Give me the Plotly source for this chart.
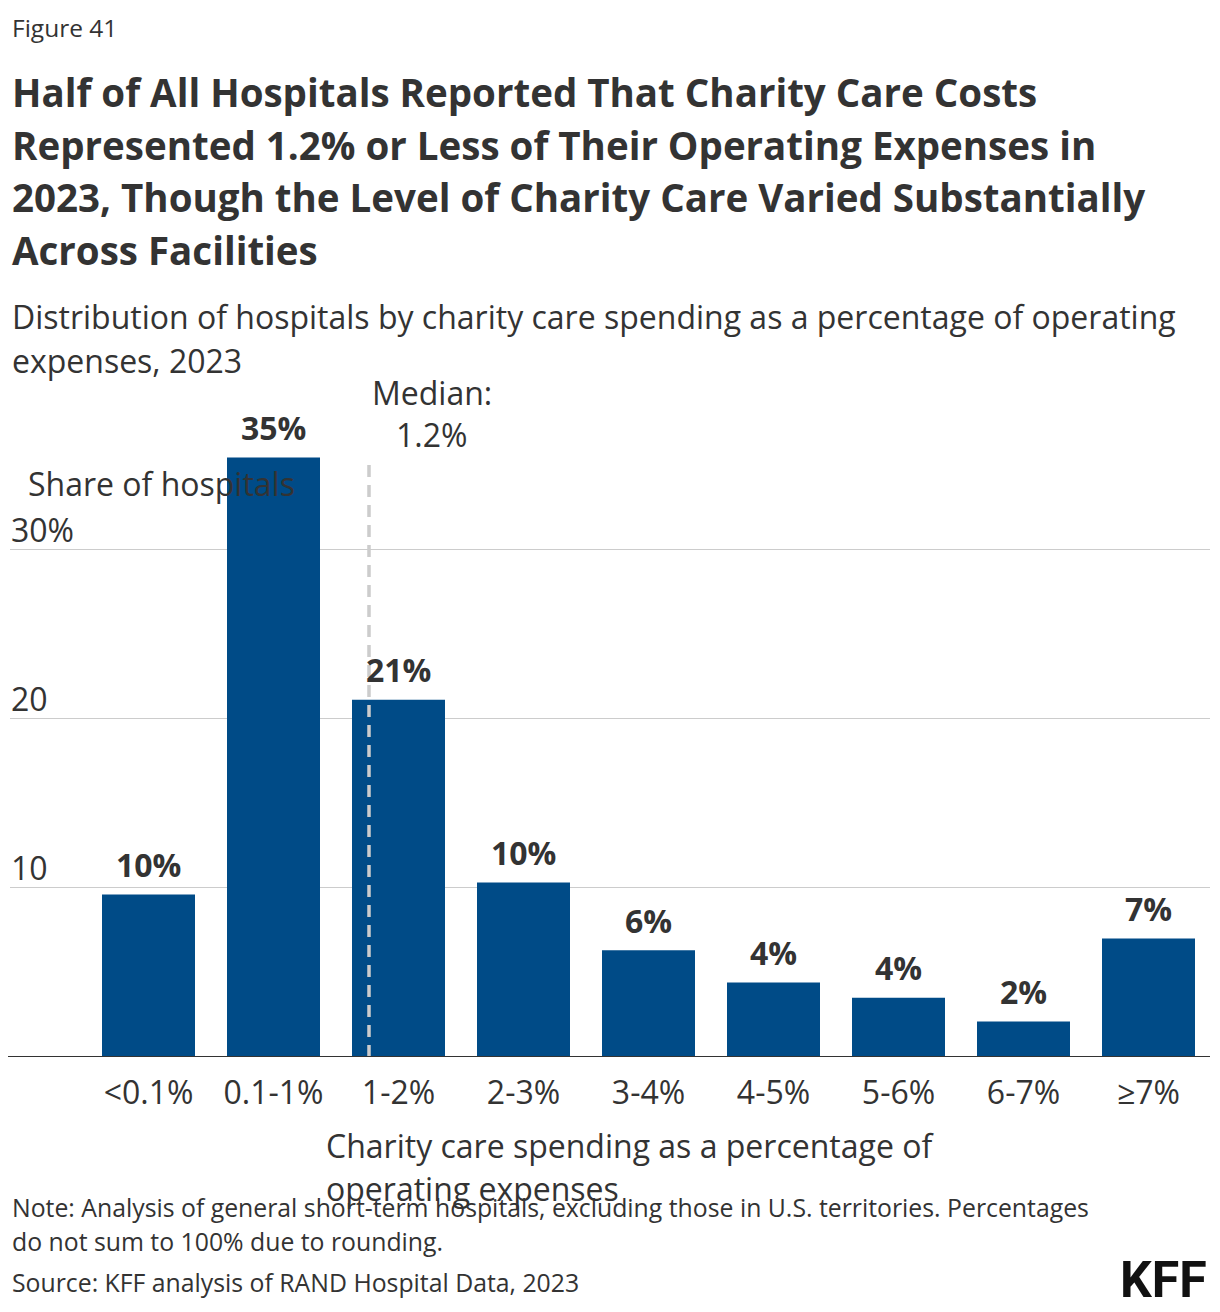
import plotly.graph_objects as go

# ---- data ----
categories = ["<0.1%", "0.1-1%", "1-2%", "2-3%", "3-4%", "4-5%", "5-6%", "6-7%", "≥7%"]
shares = [9.6, 35.4, 21.1, 10.3, 6.3, 4.4, 3.5, 2.1, 7.0]
bar_labels = ["10%", "35%", "21%", "10%", "6%", "4%", "4%", "2%", "7%"]
y_ticks = [10, 20, 30]
y_tick_labels = ["10", "20", "30%"]
median_pos = 1.764  # location of the 1.2% median on the category axis

# ---- layout constants (page has an 8px body margin) ----
OFF = 8
W, H = 1220 - OFF, 1312 - OFF
PL, PR = 10 - OFF, 1210 - OFF
PT, PB = 400 - OFF, 1057 - OFF
FONT = "'Open Sans', 'Noto Sans', sans-serif"
TXT = "#333333"
BLUE = "#004B87"

ppu = (1057 - 549) / 30.0
ymax = (PB - PT) / ppu
first_center = 148.5 - OFF
step = 125.0
xmin = -(first_center - PL) / step
xmax = (PR - first_center) / step


def py(y):
    return (PB - (y - OFF)) / (PB - PT)


def px(x):
    return ((x - OFF) - PL) / (PR - PL)


fig = go.Figure()
fig.add_trace(go.Bar(
    x=list(range(len(categories))), y=shares,
    marker=dict(color=BLUE, line=dict(width=0)),
    width=0.744, hoverinfo="skip",
))

ann = []


def text(x, y, s, size, bold=False, xanchor="left", color=TXT, xref="paper", yref="paper", yshift=0, family=FONT):
    ann.append(dict(
        x=x, y=y, xref=xref, yref=yref, text=f"<b>{s}</b>" if bold else s,
        showarrow=False, xanchor=xanchor, yanchor="middle", yshift=yshift,
        font=dict(family=family, size=size, color=color), align="left",
    ))


# header
text(px(10), py(27), "Figure 41", 24.5)
title_lines = [
    "Half of All Hospitals Reported That Charity Care Costs",
    "Represented 1.2% or Less of Their Operating Expenses in",
    "2023, Though the Level of Charity Care Varied Substantially",
    "Across Facilities",
]
for i, line in enumerate(title_lines):
    text(px(10), py(92 + i * 52.5), line, 38.5, bold=True)
sub_lines = [
    "Distribution of hospitals by charity care spending as a percentage of operating",
    "expenses, 2023",
]
for i, line in enumerate(sub_lines):
    text(px(10), py(316 + i * 44), line, 32)

# y-axis labels
for v, lab in zip(y_ticks, y_tick_labels):
    text(px(9), v, lab, 32, yref="y", yshift=20)
text(px(26), py(483), "Share of hospitals", 32)

# median label
text(median_pos + 0.5, py(392), "Median:", 32, xanchor="center", xref="x")
text(median_pos + 0.5, py(434), "1.2%", 32, xanchor="center", xref="x")

# bar labels
for i, (v, lab) in enumerate(zip(shares, bar_labels)):
    text(i, v, lab, 32, bold=True, xanchor="center", xref="x", yref="y", yshift=30)

# x-axis title
text(px(324), py(1145), "Charity care spending as a percentage of", 32)
text(px(324), py(1188), "operating expenses", 32)

# footer
text(px(10), py(1207), "Note: Analysis of general short-term hospitals, excluding those in U.S. territories. Percentages", 24.8)
text(px(10), py(1241), "do not sum to 100% due to rounding.", 24.8)
text(px(10), py(1282), "Source: KFF analysis of RAND Hospital Data, 2023", 24.8)
text(px(1209), py(1280), "KFF", 50, bold=True, xanchor="right", color="#111111",
     family="'Roboto', 'Open Sans', sans-serif")

shapes = [
    dict(type="line", xref="x", yref="y", x0=median_pos, x1=median_pos, y0=0, y1=max(shares),
         line=dict(color="#cccccc", width=3.5, dash="12px,8px"), layer="above"),
    dict(type="line", xref="paper", yref="y", x0=px(5), x1=1, y0=0, y1=0,
         line=dict(color="#333333", width=2), layer="above"),
]

fig.update_layout(
    width=W, height=H,
    margin=dict(l=PL, r=W - PR, t=PT, b=H - PB, pad=0),
    paper_bgcolor="white", plot_bgcolor="white",
    showlegend=False,
    annotations=ann, shapes=shapes,
    bargap=0.256,
    xaxis=dict(
        range=[xmin, xmax], tickmode="array", tickvals=list(range(len(categories))),
        ticktext=categories, showgrid=False, zeroline=False, showline=False,
        ticks="", ticklabelstandoff=14,
        tickfont=dict(family=FONT, size=32, color=TXT),
        fixedrange=True,
    ),
    yaxis=dict(
        range=[0, ymax], tickmode="array", tickvals=y_ticks, showticklabels=False,
        showgrid=True, gridcolor="#cccccc", gridwidth=1, zeroline=False, showline=False,
        fixedrange=True,
    ),
)

fig.write_html("out.html", config={"displayModeBar": False})
